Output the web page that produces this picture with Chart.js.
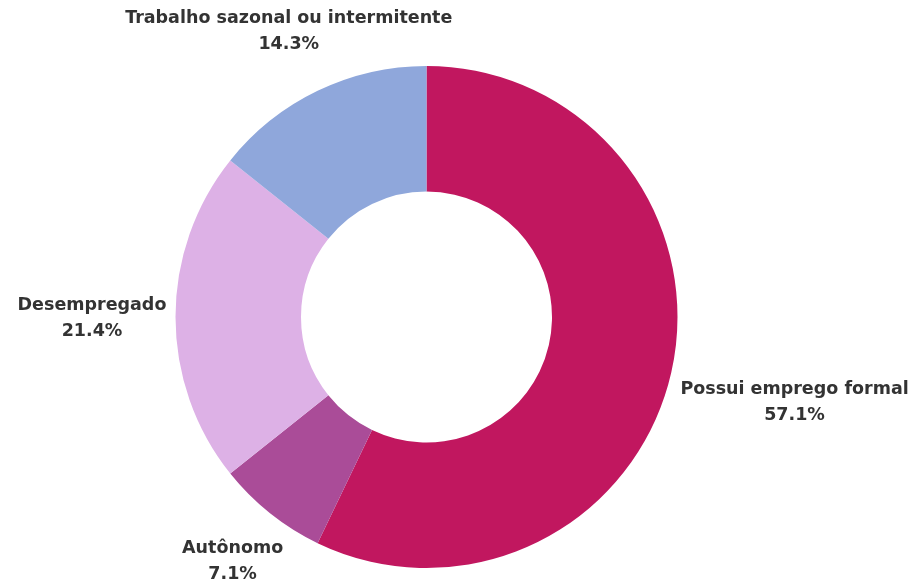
<!DOCTYPE html>
<html>
<head>
<meta charset="utf-8">
<script src="https://cdn.jsdelivr.net/npm/chart.js@4"></script>
<style>
  html, body { margin: 0; padding: 0; background: #ffffff; }
  #wrap { width: 917px; height: 579px; position: relative; }
</style>
</head>
<body>
<div id="wrap"><canvas id="c" width="917" height="579"></canvas></div>
<script>
// Data
const categories = ["Possui emprego formal", "Autônomo", "Desempregado", "Trabalho sazonal ou intermitente"];
const counts = [8, 1, 3, 2];
const sliceColors = ["#C1175F", "#AA4C98", "#DDB1E6", "#8FA7DB"];

const total = counts.reduce((a, b) => a + b, 0);

const outsideLabels = {
  id: 'outsideLabels',
  afterDatasetsDraw(chart, args, opts) {
    const ctx = chart.ctx;
    const meta = chart.getDatasetMeta(0);
    const fontSize = opts.fontSize, lh = opts.lineHeight, gap = opts.gap;
    ctx.save();
    ctx.font = `bold ${fontSize}px "DejaVu Sans", sans-serif`;
    ctx.fillStyle = opts.color;
    ctx.textAlign = 'center';
    ctx.textBaseline = 'middle';
    meta.data.forEach((arc, i) => {
      const p = arc.getProps(['x', 'y', 'startAngle', 'endAngle', 'outerRadius'], true);
      const mid = (p.startAngle + p.endAngle) / 2;
      const dx = Math.cos(mid), dy = Math.sin(mid);
      const pct = (counts[i] / total * 100).toFixed(1) + '%';
      const lines = [categories[i], pct];
      const w = Math.max(...lines.map(t => ctx.measureText(t).width));
      const h = lines.length * lh;
      const need = p.outerRadius + gap;
      let d = p.outerRadius;
      for (; d < p.outerRadius + 600; d += 0.5) {
        const cx = d * dx, cy = d * dy;
        const nx = Math.max(Math.abs(cx) - w / 2, 0);
        const ny = Math.max(Math.abs(cy) - h / 2, 0);
        const inside = (Math.abs(cx) < w / 2) && (Math.abs(cy) < h / 2);
        const dist = Math.sqrt(nx * nx + ny * ny);
        if (!inside && dist >= need) break;
      }
      const bx = p.x + d * dx, by = p.y + d * dy;
      lines.forEach((t, k) => {
        ctx.fillText(t, bx, by - h / 2 + lh / 2 + k * lh + opts.textShift);
      });
    });
    ctx.restore();
  }
};

new Chart(document.getElementById('c'), {
  type: 'doughnut',
  data: {
    labels: categories,
    datasets: [{
      data: counts,
      backgroundColor: sliceColors,
      borderWidth: 0,
      hoverOffset: 0
    }]
  },
  options: {
    responsive: false,
    animation: false,
    cutout: '50%',
    layout: { padding: { top: 66, bottom: 11, left: 0, right: 64 } },
    plugins: {
      legend: { display: false },
      tooltip: { enabled: false },
      outsideLabels: { fontSize: 17.5, lineHeight: 26, gap: 9, color: '#333333', textShift: 1 }
    }
  },
  plugins: [outsideLabels]
});
</script>
</body>
</html>
